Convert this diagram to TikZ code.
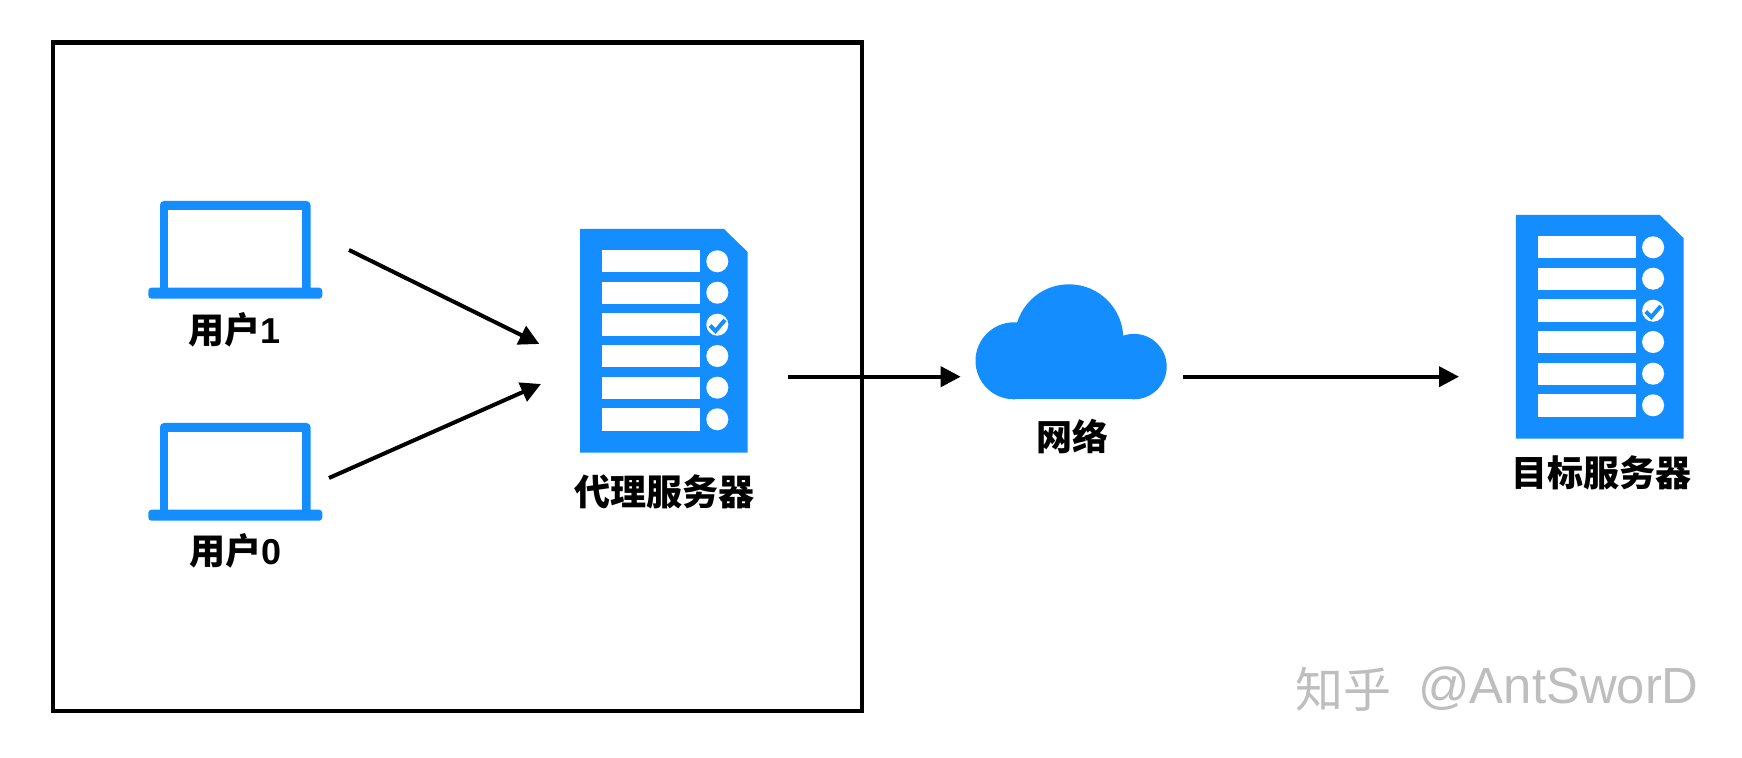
\documentclass[tikz,border=0pt]{standalone}
\usepackage{fontspec}
\usetikzlibrary{arrows.meta}
\newfontfamily\cjkfont{Noto Sans CJK SC}
\newfontfamily\latinfont{Liberation Sans}
\definecolor{iconblue}{RGB}{20,142,255}
\definecolor{markgray}{RGB}{190,190,190}
\tikzset{
  frameline/.style={draw=black,line width=2.1pt,fill=white},
  link/.style={draw=black,line width=2pt,-{Triangle[length=10pt,width=10pt]}},
  caption/.style={font=\cjkfont\bfseries\fontsize{18pt}{20pt}\selectfont,text=black,inner sep=0pt,anchor=center},
  iconfill/.style={fill=iconblue,draw=none},
  holefill/.style={fill=white,draw=none},
  watermark/.style={text=markgray,inner sep=0pt,anchor=west}
}
\newcommand{\digitb}[1]{{\latinfont\bfseries #1}}
\newcommand{\servericon}[2]{%
  \begin{scope}[shift={(#1,#2)}]
    \path[iconfill] (580,229) -- (724,229) -- (747.7,252) -- (747.7,452.7) -- (580,452.7) -- cycle;
    \foreach \ya/\yb/\yc in {250/271.7/261.3,281.7/304/292.7,313.5/335.7/324.7,345.3/366.7/356,376.7/399/387.7,408.3/430.7/419.3}{
      \path[holefill] (601.7,\ya) rectangle (700,\yb);
      \path[holefill] (717.3,\yc) circle (11);
    }
    \draw[iconblue,line width=2pt,line join=miter] (710,325.5) -- (715.5,331) -- (725,320);
  \end{scope}}
\newcommand{\laptopicon}[1]{%
  \begin{scope}[shift={(0,#1)}]
    \path[iconfill,rounded corners=2pt] (160,298) -- (160,201) -- (310.5,201) -- (310.5,298) -- cycle;
    \path[holefill] (168,210) rectangle (302.2,288);
    \path[iconfill,rounded corners=1.6pt] (148.3,287.7) -- (322.3,287.7) -- (322.3,298.7) -- (148.3,298.7) -- cycle;
  \end{scope}}
\begin{document}
\begin{tikzpicture}[x=0.5pt,y=-0.5pt]
  \path[use as bounding box,fill=white] (0,0) rectangle (1742,758);
  \path[frameline] (53,42.5) rectangle (862,711);
  \laptopicon{0}
  \laptopicon{222}
  \servericon{0}{0}
  \servericon{935.8}{-14}
  % cloud
  \path[iconfill] (1014,360.8) circle (38.5);
  \path[iconfill] (1069,338.6) circle (54.3);
  \path[iconfill] (1134,366.6) circle (32.7);
  \path[iconfill] (1014,340) rectangle (1134,399.3);
  \node[caption] (user1) at (235,330) {用户\digitb{1}};
  \node[caption] (user0) at (235.5,551) {用户\digitb{0}};
  \node[caption] (proxy) at (664,491.7) {代理服务器};
  \node[caption] (net) at (1072,436.7) {网络};
  \node[caption] (target) at (1601.7,472.5) {目标服务器};
  \coordinate (a1s) at (349,250);
  \coordinate (a1e) at (539.3,344);
  \coordinate (a2s) at (329,478);
  \coordinate (a2e) at (541,384);
  \coordinate (a3s) at (788,376.7);
  \coordinate (a3e) at (960.7,376.7);
  \coordinate (a4s) at (1183,376.7);
  \coordinate (a4e) at (1459,376.7);
  \draw[link] (a1s) -- (a1e);
  \draw[link] (a2s) -- (a2e);
  \draw[link] (a3s) -- (a3e);
  \draw[link] (a4s) -- (a4e);
  \node[watermark,font=\cjkfont\fontsize{24pt}{28pt}\selectfont] (wm1) at (1295,689) {知乎};
  \node[watermark,font=\latinfont\fontsize{25.4pt}{28pt}\selectfont] (wm2) at (1418,689) {@AntSworD};
\end{tikzpicture}
\end{document}
